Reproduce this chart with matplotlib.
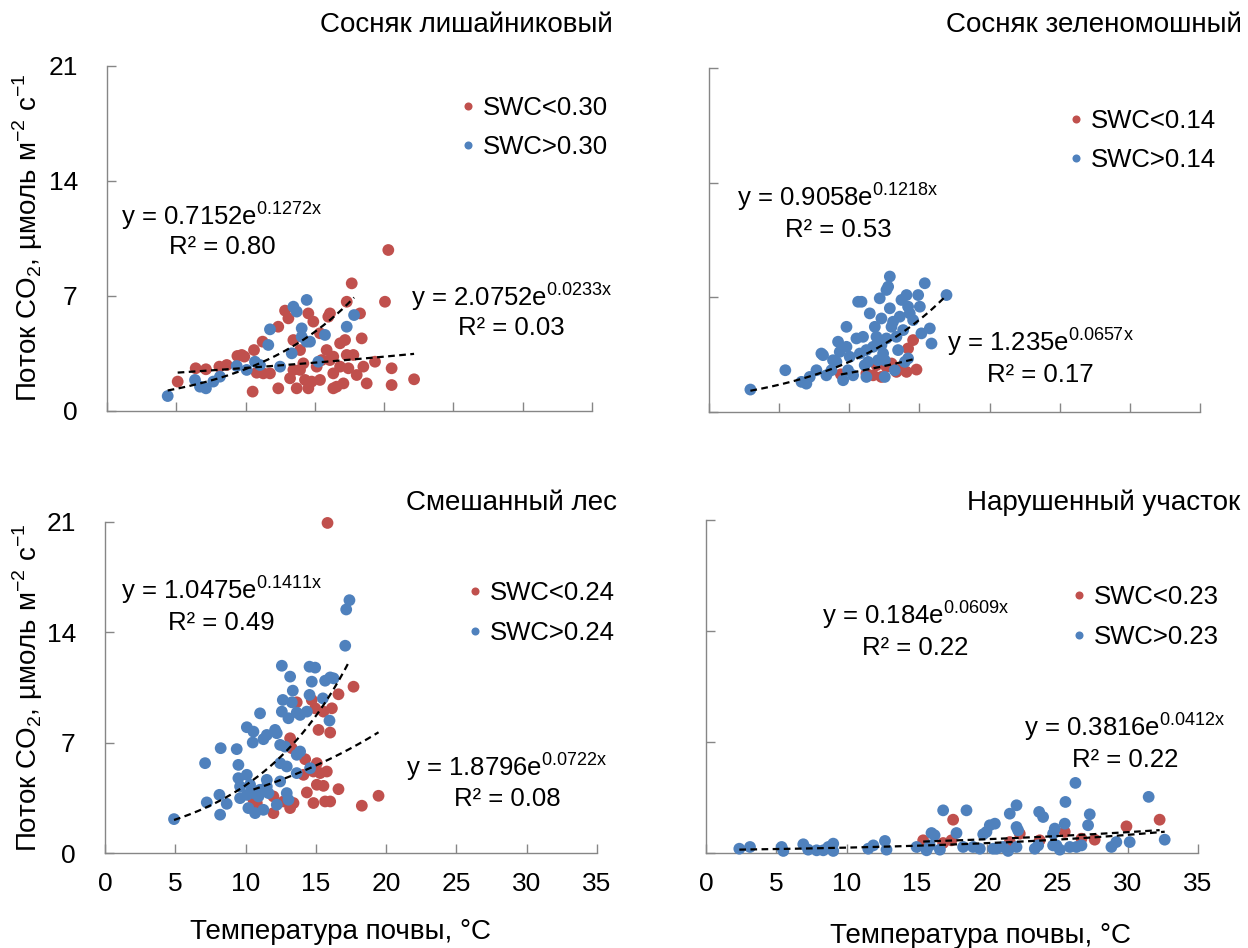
import matplotlib
matplotlib.use('Agg')
import matplotlib.pyplot as plt
import numpy as np
from matplotlib.lines import Line2D

plt.rcParams['font.family'] = ['Liberation Sans', 'DejaVu Sans']
plt.rcParams['font.size'] = 17
plt.rcParams['axes.unicode_minus'] = True

RED = '#C0504D'
BLUE = '#4F81BD'
AXC = '#868686'

FS_TICK = 19
FS_ANN = 18.5
FS_TITLE = 20
FS_LABEL = 20

# ---------------- data ----------------
titles = ['Сосняк лишайниковый', 'Сосняк зеленомошный', 'Смешанный лес', 'Нарушенный участок']
legend_low = ['SWC<0.30', 'SWC<0.14', 'SWC<0.24', 'SWC<0.23']
legend_high = ['SWC>0.30', 'SWC>0.14', 'SWC>0.24', 'SWC>0.23']
x_ticks = [0, 5, 10, 15, 20, 25, 30, 35]
y_ticks = [0, 7, 14, 21]

# Сосняк лишайниковый
tl_red_x = [5.10, 6.40, 7.14, 8.11, 8.64, 9.41, 9.72, 9.91, 10.61, 10.51, 11.23, 10.80, 11.28, 11.76, 12.36, 12.36,
            12.85, 13.09, 13.45, 13.45, 13.21, 13.69, 13.93, 14.17, 14.29, 14.53, 14.89, 14.53, 14.77, 15.37, 15.49,
            15.97, 16.09, 15.85, 16.09, 16.33, 16.33, 16.57, 16.82, 17.18, 17.30, 17.42, 17.66, 17.30, 18.26, 18.38,
            17.78, 18.02, 18.50, 18.74, 19.34, 20.06, 20.30, 20.54, 20.54, 22.16, 15.13, 16.33, 16.82, 17.06, 15.37,
            13.93]
tl_red_y = [1.79, 2.60, 2.54, 2.70, 2.80, 3.35, 3.41, 3.31, 3.71, 1.18, 4.22, 2.33, 2.29, 2.29, 1.38, 5.13,
            6.11, 5.64, 4.32, 2.50, 1.99, 1.38, 2.50, 2.90, 1.89, 5.94, 5.44, 1.38, 1.79, 1.89, 3.10,
            5.74, 5.94, 3.71, 3.10, 2.29, 1.38, 1.48, 4.12, 4.32, 3.41, 2.60, 7.77, 6.65, 5.94, 4.42,
            3.41, 2.19, 2.70, 1.68, 3.00, 6.65, 9.80, 2.60, 1.58, 1.93, 2.70, 3.31, 2.70, 1.68, 4.73,
            3.71]
tl_blue_x = [4.38, 6.35, 6.71, 7.14, 7.67, 8.15, 9.36, 10.08, 10.68, 11.04, 11.64, 11.76, 12.49, 13.33, 13.45,
             13.69, 14.05, 14.05, 14.41, 14.65, 14.41, 15.25, 15.73, 17.30, 17.83]
tl_blue_y = [0.91, 1.89, 1.48, 1.38, 1.79, 2.09, 2.74, 2.50, 3.00, 2.80, 4.02, 4.97, 2.70, 3.51, 6.35,
             6.05, 5.03, 4.52, 4.22, 4.22, 6.76, 3.00, 4.63, 5.13, 5.84]

# Сосняк зеленомошный
tr_red_x = [9.40, 11.22, 11.94, 12.29, 13.01, 13.36, 13.72, 14.08, 14.19, 14.55, 14.79, 12.65, 11.70]
tr_red_y = [2.30, 2.35, 2.86, 2.14, 2.96, 2.45, 2.65, 2.45, 3.88, 4.39, 2.59, 2.76, 2.24]
tr_blue_x = [2.95, 5.44, 6.59, 6.94, 7.18, 7.66, 8.01, 8.13, 8.37, 8.73, 9.08, 9.20, 9.32, 9.56, 9.80, 9.80,
             9.91, 10.27, 10.51, 10.63, 10.87, 10.98, 11.10, 11.22, 11.34, 11.46, 11.70, 11.82, 11.94, 12.05,
             12.17, 12.29, 12.41, 12.53, 12.65, 12.77, 12.89, 12.89, 13.01, 13.12, 13.24, 13.48, 13.60, 13.72,
             13.84, 13.96, 14.08, 14.19, 14.31, 14.55, 14.91, 15.03, 15.14, 15.38, 15.74, 15.86, 16.93, 14.19,
             11.22, 10.03, 8.84, 10.75, 12.65, 12.29, 13.36, 12.53]
tr_blue_y = [1.37, 2.55, 1.84, 1.73, 2.14, 2.55, 3.57, 3.47, 2.24, 2.55, 3.06, 4.29, 3.67, 1.94, 5.20, 3.98,
             2.55, 2.24, 4.49, 6.73, 6.73, 4.59, 2.86, 2.14, 3.06, 6.02, 3.98, 5.20, 4.59, 3.16,
             6.94, 5.71, 3.57, 2.14, 7.45, 7.65, 8.27, 6.33, 5.20, 5.51, 2.55, 3.78, 5.82, 6.84,
             5.00, 3.06, 7.14, 6.43, 6.02, 5.61, 7.14, 6.43, 4.80, 7.86, 5.10, 4.18, 7.14, 3.27,
             3.78, 3.37, 3.16, 3.57, 4.49, 4.08, 4.59, 3.16]

# Смешанный лес
bl_red_x = [15.83, 17.68, 16.61, 13.64, 14.71, 14.95, 15.54, 16.14, 15.19, 16.02, 13.17, 13.29, 14.24, 15.07,
            14.83, 15.31, 15.78, 14.12, 15.07, 15.54, 16.61, 14.36, 11.98, 14.83, 15.66, 16.02, 13.41, 13.17,
            11.98, 10.80, 18.27, 19.46, 10.56, 12.70]
bl_red_y = [20.94, 10.55, 10.07, 9.56, 9.71, 9.18, 8.97, 9.18, 7.81, 7.64, 7.28, 6.65, 5.95, 5.70,
            5.17, 5.07, 5.17, 4.96, 4.33, 4.26, 4.05, 3.84, 3.59, 3.17, 3.27, 3.27, 3.17, 2.85,
            2.53, 3.17, 3.00, 3.63, 3.38, 3.27]
bl_blue_x = [4.91, 7.12, 7.24, 8.14, 8.19, 8.23, 8.66, 9.37, 9.49, 9.49, 9.61, 10.09, 10.09, 10.56, 10.51,
             11.03, 11.27, 11.51, 12.10, 12.22, 12.58, 13.17, 13.36, 12.65, 13.29, 12.58, 13.05, 13.64, 13.88,
             14.36, 14.55, 14.55, 14.95, 14.71, 15.50, 15.66, 16.02, 16.26, 15.97, 17.09, 17.16, 17.39, 12.46,
             12.81, 13.64, 13.88, 12.46, 12.93, 13.64, 14.59, 11.51, 11.03, 10.56, 10.09, 9.61, 10.20, 10.68,
             11.27, 12.22, 13.05, 12.93, 10.92, 11.63, 12.46, 10.32, 11.51]
bl_blue_y = [2.15, 5.70, 3.21, 3.69, 2.43, 6.65, 3.12, 6.59, 5.59, 4.75, 4.22, 4.96, 7.98, 7.70, 7.01,
             8.86, 7.22, 7.49, 7.81, 7.60, 11.88, 11.19, 10.30, 9.71, 9.56, 8.97, 8.55, 8.91, 8.76,
             8.97, 10.03, 11.82, 11.76, 10.87, 9.81, 10.93, 11.14, 11.08, 8.40, 13.15, 15.45, 16.04, 6.86,
             6.75, 6.23, 6.44, 5.70, 5.49, 5.07, 5.38, 4.64, 4.01, 3.80, 3.69, 3.48, 2.85, 2.53,
             2.74, 3.06, 3.38, 3.80, 3.59, 3.80, 4.54, 4.33, 4.22]

# Нарушенный участок
br_red_x = [15.45, 16.87, 17.58, 17.46, 21.61, 22.32, 23.74, 25.52, 26.71, 27.65, 29.91, 32.27]
br_red_y = [0.80, 0.63, 2.10, 0.80, 0.69, 1.22, 0.80, 1.33, 0.90, 0.84, 1.68, 2.10]
br_blue_x = [2.37, 3.13, 5.38, 5.50, 6.92, 7.27, 7.87, 8.34, 8.70, 9.05, 9.05, 11.54, 11.90, 12.73, 12.84,
             14.98, 15.69, 15.92, 16.04, 16.26, 16.64, 16.87, 17.82, 18.29, 18.53, 19.00, 19.48, 19.72, 19.95,
             20.19, 20.55, 20.66, 21.14, 21.49, 21.61, 22.09, 22.09, 22.20, 22.09, 23.39, 23.70, 23.98, 23.63,
             24.69, 24.81, 24.93, 25.17, 25.52, 25.57, 25.88, 26.28, 26.35, 26.71, 27.18, 27.30, 28.84, 29.19,
             30.14, 31.49, 32.63, 20.43, 24.69]
br_blue_y = [0.27, 0.38, 0.38, 0.13, 0.55, 0.21, 0.17, 0.17, 0.38, 0.59, 0.13, 0.27, 0.48, 0.76, 0.21,
             0.38, 0.17, 0.48, 1.26, 1.12, 0.21, 2.69, 1.26, 0.38, 2.69, 0.38, 0.27, 1.18, 1.33,
             1.75, 1.85, 0.27, 0.38, 0.13, 2.48, 3.01, 1.64, 1.43, 0.38, 0.27, 2.59, 2.27, 0.48,
             1.22, 1.54, 0.48, 0.21, 1.85, 3.22, 0.38, 4.42, 0.38, 0.48, 1.75, 2.44, 0.38, 0.69,
             0.69, 3.54, 0.84, 0.27, 0.48]

# exponential trend lines y = a*exp(b*x), as printed on the chart
fit_red_a = [2.0752, 1.235, 1.8796, 0.3816]
fit_red_b = [0.0233, 0.0657, 0.0722, 0.0412]
fit_red_r2 = ['0.03', '0.17', '0.08', '0.22']
fit_blue_a = [0.7152, 0.9058, 1.0475, 0.184]
fit_blue_b = [0.1272, 0.1218, 0.1411, 0.0609]
fit_blue_r2 = ['0.80', '0.53', '0.49', '0.22']

red_x = [tl_red_x, tr_red_x, bl_red_x, br_red_x]
red_y = [tl_red_y, tr_red_y, bl_red_y, br_red_y]
blue_x = [tl_blue_x, tr_blue_x, bl_blue_x, br_blue_x]
blue_y = [tl_blue_y, tr_blue_y, bl_blue_y, br_blue_y]

# ---------------- layout ----------------
axes_rects = [
    [0.08574, 0.56646, 0.38862, 0.36392],
    [0.56811, 0.56540, 0.39343, 0.36287],
    [0.08413, 0.10021, 0.39423, 0.34916],
    [0.56571, 0.10021, 0.39423, 0.35127],
]
title_pos = [(1.043, 1.099), (1.086, 1.105), (1.041, 1.036), (1.085, 1.030)]
legend_pos = [(0.730, 0.822), (0.733, 0.789), (0.738, 0.725), (0.744, 0.709)]
blue_txt = [(8.3, 11.28, 9.54), (9.2, 12.53, 10.70), (8.3, 16.05, 14.15), (14.9, 14.38, 12.48)]
red_txt = [(29.2, 6.35, 4.63), (23.6, 3.68, 1.85), (28.6, 4.84, 2.98), (29.8, 7.33, 5.44)]

fig = plt.figure(figsize=(12.48, 9.48), dpi=100)


def fmt_eq(a, b):
    return 'y = %s$\\mathregular{e^{%sx}}$' % (repr(a), repr(b))


for i in range(4):
    ax = fig.add_axes(axes_rects[i])
    ax.set_xlim(0, 35)
    ax.set_ylim(0, 21)
    ax.set_xticks(x_ticks)
    ax.set_yticks(y_ticks)
    for s in ['top', 'right']:
        ax.spines[s].set_visible(False)
    for s in ['left', 'bottom']:
        ax.spines[s].set_color(AXC)
        ax.spines[s].set_linewidth(1.0)
    ax.tick_params(axis='both', direction='in', length=6.5, width=1.0, color=AXC, labelsize=FS_TICK)
    ax.tick_params(axis='y', pad=21)
    ax.tick_params(axis='x', pad=14)
    if i in (1, 3):
        ax.tick_params(axis='y', labelleft=False)
    if i in (0, 1):
        ax.tick_params(axis='x', labelbottom=False)

    ax.scatter(red_x[i], red_y[i], s=72, color=RED, edgecolors='none', zorder=3, clip_on=False)
    ax.scatter(blue_x[i], blue_y[i], s=72, color=BLUE, edgecolors='none', zorder=4, clip_on=False)

    for xs, a, b in [(red_x[i], fit_red_a[i], fit_red_b[i]), (blue_x[i], fit_blue_a[i], fit_blue_b[i])]:
        xx = np.linspace(min(xs), max(xs), 200)
        ax.plot(xx, a * np.exp(b * xx), color='black', lw=1.6, ls=(0, (3, 2)), zorder=5)

    bx, by1, by2 = blue_txt[i]
    ax.text(bx, by1, fmt_eq(fit_blue_a[i], fit_blue_b[i]), ha='center', va='baseline', fontsize=FS_ANN, zorder=6)
    ax.text(bx, by2, 'R² = ' + fit_blue_r2[i], ha='center', va='baseline', fontsize=FS_ANN, zorder=6)
    rx, ry1, ry2 = red_txt[i]
    ax.text(rx, ry1, fmt_eq(fit_red_a[i], fit_red_b[i]), ha='center', va='baseline', fontsize=FS_ANN, zorder=6,
            clip_on=False)
    ax.text(rx, ry2, 'R² = ' + fit_red_r2[i], ha='center', va='baseline', fontsize=FS_ANN, zorder=6,
            clip_on=False)

    tx, ty = title_pos[i]
    ax.text(tx, ty, titles[i], transform=ax.transAxes, ha='right', va='baseline', fontsize=FS_TITLE)

    handles = [Line2D([], [], ls='none', marker='o', color=RED, markersize=5.8, markeredgewidth=0),
               Line2D([], [], ls='none', marker='o', color=BLUE, markersize=5.8, markeredgewidth=0)]
    ax.legend(handles, [legend_low[i], legend_high[i]], loc='center left', bbox_to_anchor=legend_pos[i],
              frameon=False, handlelength=0.55, handletextpad=0.3, labelspacing=0.6, borderpad=0,
              borderaxespad=0, fontsize=FS_ANN)

ylabel = 'Поток CO$_{\\mathregular{2}}$, µмоль м$^{\\mathregular{-2}}$ с$^{\\mathregular{-1}}$'
fig.text(0.0224, 0.749, ylabel, rotation=90, ha='center', va='center', fontsize=FS_LABEL)
fig.text(0.0224, 0.275, ylabel, rotation=90, ha='center', va='center', fontsize=FS_LABEL)
xlabel = 'Температура почвы, °C'
fig.text(0.2732, 0.0169, xlabel, ha='center', va='center', fontsize=FS_LABEL)
fig.text(0.786, 0.0127, xlabel, ha='center', va='center', fontsize=FS_LABEL)

fig.savefig('out.png', dpi=100)
